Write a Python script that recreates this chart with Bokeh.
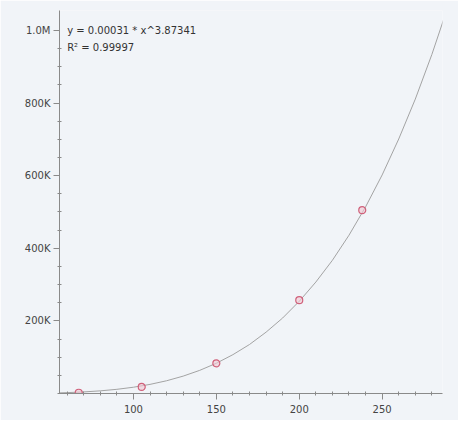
from bokeh.plotting import figure
from bokeh.models import Range1d, FixedTicker, Label, CustomJSTickFormatter
from bokeh.embed import file_html
from bokeh.resources import INLINE

# measured points
pt_x = [67, 105, 150, 200, 238]
pt_y = [2000, 18000, 83000, 257000, 505000]

# fitted curve
curve_x = [55, 60, 70, 80, 90, 100, 110, 120, 130, 140, 150, 160, 170, 180, 190,
           200, 210, 220, 230, 240, 250, 260, 270, 280, 290]
curve_y = [1710, 2400, 4350, 7300, 11500, 17300, 25100, 35100, 47900, 63800, 83300,
           107000, 135000, 169000, 208000, 254000, 307000, 367000, 436000, 514000,
           602000, 701000, 811000, 934000, 1070000]

x_major = [100, 150, 200, 250]
x_minor = [60, 70, 80, 90, 110, 120, 130, 140, 160, 170, 180, 190, 210, 220, 230, 240, 260, 270, 280]
y_major = [200000, 400000, 600000, 800000, 1000000]
y_minor = [0, 50000, 100000, 150000, 250000, 300000, 350000, 450000, 500000, 550000,
           650000, 700000, 750000, 850000, 900000, 950000]

eq_text = "y = 0.00031 * x^3.87341"
r2_text = "R\u00b2 = 0.99997"

BG = "#f1f4f8"
FONT = "DejaVu Sans"

p = figure(width=458, height=420, output_backend="svg", toolbar_location=None,
           x_range=Range1d(55.4, 286.4), y_range=Range1d(0, 1055000),
           min_border_left=59, min_border_right=16, min_border_top=10, min_border_bottom=27)
p.background_fill_color = BG
p.border_fill_color = BG
p.outline_line_color = None
p.grid.visible = False

p.line(curve_x, curve_y, line_color="#a3a3a3", line_width=1)
p.scatter(pt_x, pt_y, size=7, line_color="#d0607a", line_width=1.2,
          fill_color="#f2c6d2", fill_alpha=0.6)

for ax in (p.xaxis[0], p.yaxis[0]):
    ax.axis_line_color = "#8a8a8a"
    ax.major_tick_line_color = "#8a8a8a"
    ax.minor_tick_line_color = "#8a8a8a"
    ax.major_tick_out = 6
    ax.major_tick_in = 0
    ax.minor_tick_out = 2
    ax.minor_tick_in = 2
    ax.major_label_text_font = FONT
    ax.major_label_text_font_size = "10px"
    ax.major_label_text_color = "#444444"
    ax.major_label_standoff = 3

p.xaxis[0].ticker = FixedTicker(ticks=x_major, minor_ticks=x_minor)
p.yaxis[0].ticker = FixedTicker(ticks=y_major, minor_ticks=y_minor)
p.xaxis[0].major_label_standoff = 5
p.yaxis[0].formatter = CustomJSTickFormatter(code="""
if (tick >= 1000000) { return (tick/1000000).toFixed(1) + 'M'; }
return (tick/1000).toFixed(0) + 'K';
""")

p.add_layout(Label(x=60, y=1000000, text=eq_text, text_font=FONT, text_font_size="10px",
                   text_color="#333333", text_baseline="middle"))
p.add_layout(Label(x=60, y=952000, text=r2_text, text_font=FONT, text_font_size="10px",
                   text_color="#333333", text_baseline="middle"))

open("out.html", "w").write(file_html(p, INLINE))
